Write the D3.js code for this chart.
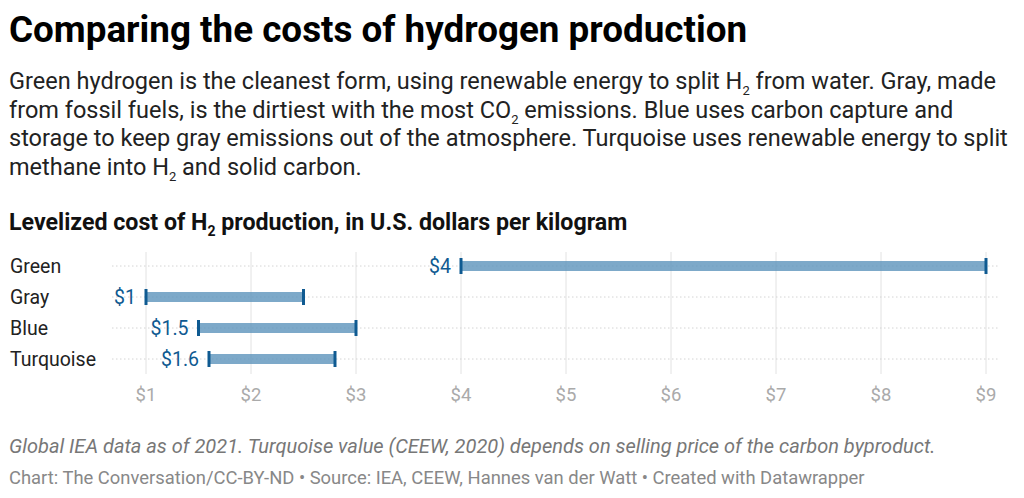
<!DOCTYPE html>
<html><head><meta charset="utf-8">
<script src="https://cdn.jsdelivr.net/npm/d3@7"></script>
<style>
body{margin:0;background:#fff;font-family:Roboto,sans-serif;}
</style></head>
<body><svg id="c" width="1024" height="498"></svg>
<script>
var categories = ["Green", "Gray", "Blue", "Turquoise"];
var lowValues = [4, 1, 1.5, 1.6];
var highValues = [9, 2.5, 3, 2.8];
var ticks = [1, 2, 3, 4, 5, 6, 7, 8, 9];

var svg = d3.select("#c");
svg.append("text").attr("x", 9).attr("y", 42).attr("font-size", 36.8).attr("font-weight", 700)
  .attr("fill", "#000").text("Comparing the costs of hydrogen production");

var desc = [
  ["Green hydrogen is the cleanest form, using renewable energy to split H", ["2"], " from water. Gray, made"],
  ["from fossil fuels, is the dirtiest with the most CO", ["2"], " emissions. Blue uses carbon capture and"],
  ["storage to keep gray emissions out of the atmosphere. Turquoise uses renewable energy to split"],
  ["methane into H", ["2"], " and solid carbon."]
];
desc.forEach(function(line, i) {
  var t = svg.append("text").attr("x", 9).attr("y", 89 + i * 28.5).attr("font-size", 23.5).attr("fill", "#222");
  line.forEach(function(p) {
    if (Array.isArray(p)) t.append("tspan").attr("font-size", 13).attr("dy", 6).text(p[0]);
    else { var s = t.append("tspan").text(p); if (t.selectAll("tspan").size() > 1) s.attr("dy", -6); }
  });
});

var st = svg.append("text").attr("x", 9).attr("y", 230).attr("font-size", 23.2).attr("font-weight", 700).attr("fill", "#111");
st.append("tspan").text("Levelized cost of H");
st.append("tspan").attr("font-size", 14).attr("dy", 6).text("2");
st.append("tspan").attr("dy", -6).text(" production, in U.S. dollars per kilogram");

var x = d3.scaleLinear().domain([1, 9]).range([146, 986]);
var y = d3.scalePoint().domain(categories).range([266, 359]);

var g = svg.append("g");
g.selectAll(".grid").data(ticks).enter().append("line")
  .attr("x1", x).attr("x2", x).attr("y1", 252).attr("y2", 374)
  .attr("stroke", "#e2e2e2").attr("stroke-width", 1);
g.selectAll(".row").data(categories).enter().append("line")
  .attr("x1", 112).attr("x2", 998).attr("y1", y).attr("y2", y)
  .attr("stroke", "#d4d4d4").attr("stroke-dasharray", "1.5,2.5");
g.selectAll(".tl").data(ticks).enter().append("text")
  .attr("x", x).attr("y", 401).attr("text-anchor", "middle").attr("font-size", 18.5)
  .attr("fill", "#aaa").text(function(d) { return "$" + d; });
g.selectAll(".cat").data(categories).enter().append("text")
  .attr("x", 10).attr("y", function(d) { return y(d) + 7; }).attr("font-size", 19.5)
  .attr("fill", "#222").text(function(d) { return d; });

var rows = categories.map(function(c, i) { return {c: c, lo: lowValues[i], hi: highValues[i]}; });
g.selectAll(".bar").data(rows).enter().append("line")
  .attr("x1", function(d) { return x(d.lo); }).attr("x2", function(d) { return x(d.hi); })
  .attr("y1", function(d) { return y(d.c); }).attr("y2", function(d) { return y(d.c); })
  .attr("stroke", "#5d94bb").attr("stroke-opacity", 0.8).attr("stroke-width", 10);
["lo", "hi"].forEach(function(k) {
  g.selectAll(".cap" + k).data(rows).enter().append("line")
    .attr("x1", function(d) { return x(d[k]); }).attr("x2", function(d) { return x(d[k]); })
    .attr("y1", function(d) { return y(d.c) - 8; }).attr("y2", function(d) { return y(d.c) + 8; })
    .attr("stroke", "#0f5a91").attr("stroke-width", 3);
});
g.selectAll(".vl").data(rows).enter().append("text")
  .attr("x", function(d) { return x(d.lo) - 10; }).attr("y", function(d) { return y(d.c) + 7; })
  .attr("text-anchor", "end").attr("font-size", 19.5).attr("fill", "#0f5a91")
  .text(function(d) { return "$" + d.lo; });

svg.append("text").attr("x", 9).attr("y", 453).attr("font-size", 20).attr("font-style", "italic")
  .attr("fill", "#777").text("Global IEA data as of 2021. Turquoise value (CEEW, 2020) depends on selling price of the carbon byproduct.");
svg.append("text").attr("x", 9).attr("y", 484).attr("font-size", 18.4)
  .attr("fill", "#888").text("Chart: The Conversation/CC-BY-ND • Source: IEA, CEEW, Hannes van der Watt • Created with Datawrapper");
</script></body></html>
